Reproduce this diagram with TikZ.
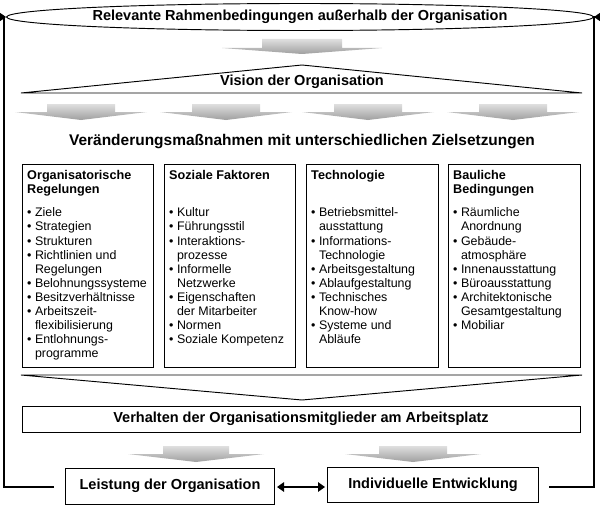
\documentclass[tikz,border=0pt]{standalone}
\usepackage{fontspec}
\setmainfont{Liberation Sans}
\usetikzlibrary{arrows.meta,shapes.geometric,calc}
\begin{document}
\begin{tikzpicture}[x=0.03cm,y=-0.03cm,
  box/.style={draw,line width=0.8pt},
  title/.style={font=\fontsize{12.4}{14}\selectfont\bfseries},
  items/.style={font=\fontsize{10.6}{12}\selectfont,align=left,anchor=north west,inner sep=0pt},
  loop/.style={line width=1.6pt,-{Triangle[length=7pt,width=9pt]}}]
\useasboundingbox (0,0) rectangle (600,506);
\newcommand{\grayarrow}[6]{% cx, rect half, tri half, ytop, ybase, ytip
  \shade[top color=gray!25,bottom color=gray!75]
   (#1-#2,#4) -- (#1+#2,#4) -- (#1+#2,#5) -- (#1+#3,#5) -- (#1,#6) -- (#1-#3,#5) -- (#1-#2,#5) -- cycle;}
% ellipse
\node[draw,ellipse,line width=0.8pt,inner sep=0pt,minimum height=27*0.03cm,minimum width=554*0.03cm,title] (env) at (300,17) {Relevante Rahmenbedingungen außerhalb der Organisation};
\grayarrow{302}{40}{80}{39}{48}{54}
% vision
\coordinate (va) at (302,65); \coordinate (vl) at (21,93); \coordinate (vr) at (582,93);
\draw[line width=0.8pt] (vl) -- (va) -- (vr) -- cycle;
\node[title] (vision) at (302,82) {Vision der Organisation};
\foreach \c in {81,226,368,513}{\grayarrow{\c}{34}{66}{104}{112}{120}}
\node[title,font=\fontsize{13.2}{15}\selectfont\bfseries] (ver) at (302,142) {Veränderungsmaßnahmen mit unterschiedlichen Zielsetzungen};
% boxes
\draw[box] (22,164) rectangle (153,367);
\draw[box] (164,164) rectangle (295,367);
\draw[box] (306,164) rectangle (438,367);
\draw[box] (448,164) rectangle (580,367);
\newcommand{\bl}{\textbullet\ }
\newcommand{\ph}{\phantom{\textbullet\ }}
\newcommand{\hd}[1]{\textbf{\fontsize{10.8}{12}\selectfont #1}}
\node[items] (t1) at (27,170) {\hd{Organisatorische}\\\hd{Regelungen}\\[8pt]
\bl Ziele\\\bl Strategien\\\bl Strukturen\\\bl Richtlinien und\\\ph Regelungen\\\bl Belohnungssysteme\\\bl Besitzverhältnisse\\\bl Arbeitszeit-\\\ph flexibilisierung\\\bl Entlohnungs-\\\ph programme};
\node[items] (t2) at (169,170) {\hd{Soziale Faktoren}\\[8pt]\\
\bl Kultur\\\bl Führungsstil\\\bl Interaktions-\\\ph prozesse\\\bl Informelle\\\ph Netzwerke\\\bl Eigenschaften\\\ph der Mitarbeiter\\\bl Normen\\\bl Soziale Kompetenz};
\node[items] (t3) at (311,170) {\hd{Technologie}\\[8pt]\\
\bl Betriebsmittel-\\\ph ausstattung\\\bl Informations-\\\ph Technologie\\\bl Arbeitsgestaltung\\\bl Ablaufgestaltung\\\bl Technisches\\\ph Know-how\\\bl Systeme und\\\ph Abläufe};
\node[items] (t4) at (453,170) {\hd{Bauliche}\\\hd{Bedingungen}\\[8pt]
\bl Räumliche\\\ph Anordnung\\\bl Gebäude-\\\ph atmosphäre\\\bl Innenausstattung\\\bl Büroausstattung\\\bl Architektonische\\\ph Gesamtgestaltung\\\bl Mobiliar};
% funnel
\coordinate (fl) at (21,375); \coordinate (fr) at (582,375); \coordinate (fa) at (302,400);
\draw[line width=0.8pt] (fl) -- (fr) -- (fa) -- cycle;
\node[box,title,minimum width=558*0.03cm,minimum height=26*0.03cm] (verh) at (301,419) {Verhalten der Organisationsmitglieder am Arbeitsplatz};
\grayarrow{196}{33}{68}{446}{454}{462}
\grayarrow{413}{34}{68}{446}{454}{462}
\node[box,title,minimum width=209*0.03cm,minimum height=36*0.03cm] (leist) at (170,486) {Leistung der Organisation};
\node[box,title,minimum width=211*0.03cm,minimum height=35*0.03cm] (indiv) at (433,485) {Individuelle Entwicklung};
\draw[line width=1.6pt,{Triangle[length=6pt,width=8pt]}-{Triangle[length=6pt,width=8pt]}] ($(leist.east)+(2,1)$) -- ($(indiv.west)+(-2,2)$);
\draw[loop] (54,487) -- (4,487) -- (4,17) -- (env.west);
\draw[loop] (549,487) -- (594,487) -- (594,17) -- (env.east);
\end{tikzpicture}
\end{document}
